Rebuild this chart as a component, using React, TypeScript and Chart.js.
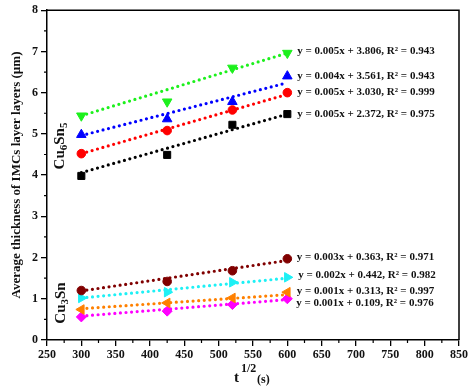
import React, { useEffect, useRef } from "react";
import { Chart, registerables } from "chart.js";

Chart.register(...registerables);

// ---- data ----
const xValues = [300, 425, 520, 600];
const fitX = [300, 600];

const greenVals = [5.44, 5.78, 6.6, 6.96];
const blueVals = [4.98, 5.36, 5.78, 6.4];
const redVals = [4.52, 5.08, 5.58, 6.0];
const blackVals = [3.98, 4.49, 5.22, 5.48];
const darkRedVals = [1.2, 1.42, 1.68, 1.97];
const cyanVals = [1.02, 1.16, 1.4, 1.52];
const orangeVals = [0.74, 0.9, 1.02, 1.16];
const magentaVals = [0.56, 0.7, 0.86, 1.0];

const greenFit = [5.44, 6.96];
const blueFit = [4.96, 6.24];
const redFit = [4.52, 5.96];
const blackFit = [4.06, 5.48];
const darkRedFit = [1.19, 1.93];
const cyanFit = [1.02, 1.5];
const orangeFit = [0.76, 1.1];
const magentaFit = [0.58, 0.98];

const equations = [
  "y = 0.005x + 3.806, R² = 0.943",
  "y = 0.004x + 3.561, R² = 0.943",
  "y = 0.005x + 3.030, R² = 0.999",
  "y = 0.005x + 2.372, R² = 0.975",
  "y = 0.003x + 0.363, R² = 0.971",
  "y = 0.002x + 0.442, R² = 0.982",
  "y = 0.001x + 0.313, R² = 0.997",
  "y = 0.001x + 0.109, R² = 0.976",
];

const yTitle = "Average thickness of IMCs layer layers (µm)";

// ---- styles ----
const FONT = "'Liberation Serif', 'Times New Roman', serif";
const seriesStyles = [
  { color: "#1cf01c", style: "triangle", rotation: 180, radius: 5.5 },
  { color: "#0000ff", style: "triangle", rotation: 0, radius: 5.5 },
  { color: "#ff0000", style: "circle", rotation: 0, radius: 4.3 },
  { color: "#000000", style: "rect", rotation: 0, radius: 5 },
  { color: "#800000", style: "circle", rotation: 0, radius: 4.3 },
  { color: "#1ef0f5", style: "triangle", rotation: 90, radius: 5.5 },
  { color: "#ff8000", style: "triangle", rotation: 270, radius: 5.5 },
  { color: "#ff00ff", style: "rectRot", rotation: 0, radius: 5 },
];
const labelOffsets = [
  [10, -2],
  [10, 0],
  [10, 0],
  [10, 0],
  [9.5, -2],
  [11, -2.5],
  [9.5, -1.5],
  [9, 4],
];

const allVals = [greenVals, blueVals, redVals, blackVals, darkRedVals, cyanVals, orangeVals, magentaVals];
const allFits = [greenFit, blueFit, redFit, blackFit, darkRedFit, cyanFit, orangeFit, magentaFit];

const decorPlugin = {
  id: "decor",
  afterDraw(chart: any) {
    const ctx = chart.ctx;
    const area = chart.chartArea;
    const xs = chart.scales.x;
    const ys = chart.scales.y;
    ctx.save();
    // frame top/right
    ctx.strokeStyle = "#000";
    ctx.lineWidth = 1.5;
    ctx.beginPath();
    ctx.moveTo(area.left, area.top);
    ctx.lineTo(area.right, area.top);
    ctx.lineTo(area.right, area.bottom);
    ctx.stroke();
    // minor ticks
    ctx.lineWidth = 1.2;
    ctx.beginPath();
    for (let v = 0.5; v < 8; v += 1) {
      const py = ys.getPixelForValue(v);
      ctx.moveTo(area.left, py);
      ctx.lineTo(area.left - 3, py);
    }
    for (let v = 275; v < 850; v += 50) {
      const px = xs.getPixelForValue(v);
      ctx.moveTo(px, area.bottom);
      ctx.lineTo(px, area.bottom + 3);
    }
    ctx.stroke();

    // equation labels
    ctx.fillStyle = "#111";
    ctx.font = `bold 11px ${FONT}`;
    ctx.textAlign = "left";
    ctx.textBaseline = "middle";
    equations.forEach((eq, i) => {
      const meta = chart.getDatasetMeta(i);
      const last = meta.data[meta.data.length - 1];
      ctx.fillText(eq, last.x + labelOffsets[i][0], last.y + labelOffsets[i][1]);
    });

    // phase labels (rotated, with subscripts)
    const drawPhase = (parts: [string, boolean][], cx: number, cy: number) => {
      ctx.save();
      ctx.translate(cx, cy);
      ctx.rotate(-Math.PI / 2);
      const big = `bold 15px ${FONT}`;
      const small = `bold 11px ${FONT}`;
      let total = 0;
      parts.forEach(([t, sub]) => {
        ctx.font = sub ? small : big;
        total += ctx.measureText(t).width;
      });
      let x = -total / 2;
      ctx.textAlign = "left";
      ctx.textBaseline = "alphabetic";
      parts.forEach(([t, sub]) => {
        ctx.font = sub ? small : big;
        ctx.fillText(t, x, sub ? 7.5 : 4.5);
        x += ctx.measureText(t).width;
      });
      ctx.restore();
    };
    drawPhase([["Cu", false], ["6", true], ["Sn", false], ["5", true]], 59, 146);
    drawPhase([["Cu", false], ["3", true], ["Sn", false]], 60, 303);

    // y title
    ctx.save();
    ctx.translate(17, 175);
    ctx.rotate(-Math.PI / 2);
    ctx.font = `bold 13px ${FONT}`;
    ctx.textAlign = "center";
    ctx.textBaseline = "middle";
    ctx.fillText(yTitle, 0, 0);
    ctx.restore();

    // x title t^{1/2}(s)
    ctx.textAlign = "left";
    ctx.textBaseline = "alphabetic";
    ctx.font = `bold 15px ${FONT}`;
    ctx.fillText("t", 234, 382);
    ctx.font = `bold 12px ${FONT}`;
    ctx.fillText("1/2", 241, 372);
    ctx.font = `bold 12px ${FONT}`;
    ctx.fillText("(s)", 257, 383);
    ctx.restore();
  },
};

export default function App() {
  const ref = useRef<HTMLCanvasElement | null>(null);
  useEffect(() => {
    document.body.style.margin = "0";
    if (!ref.current) return;
    const pointSets = allVals.map((vals, i) => ({
      data: vals.map((y, j) => ({ x: xValues[j], y })),
      showLine: false,
      pointStyle: seriesStyles[i].style,
      rotation: seriesStyles[i].rotation,
      pointRadius: seriesStyles[i].radius,
      backgroundColor: seriesStyles[i].color,
      borderColor: seriesStyles[i].color,
      borderWidth: 1,
    }));
    const fitSets = allFits.map((vals, i) => ({
      data: vals.map((y, j) => ({ x: fitX[j], y })),
      showLine: true,
      pointRadius: 0,
      borderColor: seriesStyles[i].color,
      borderWidth: 3.2,
      borderDash: [0, 5.6],
      borderCapStyle: "round",
      fill: false,
    }));
    const chart = new Chart(ref.current, {
      type: "scatter",
      data: { datasets: [...pointSets, ...fitSets] as any },
      options: {
        animation: false,
        responsive: false,
        maintainAspectRatio: false,
        layout: { padding: { top: 7, right: 17, left: 0, bottom: 0 } },
        plugins: { legend: { display: false }, tooltip: { enabled: false } },
        scales: {
          x: {
            type: "linear",
            min: 250,
            max: 850,
            afterFit: (s: any) => {
              s.height = 46;
            },
            ticks: {
              stepSize: 50,
              color: "#111",
              padding: 2,
              font: { family: FONT, weight: "bold", size: 12 },
            },
            grid: {
              drawOnChartArea: false,
              drawTicks: true,
              tickLength: 6,
              color: "#000",
              lineWidth: 1.3,
            },
            border: { display: true, color: "#000", width: 1.5 },
          },
          y: {
            type: "linear",
            min: 0,
            max: 8,
            afterFit: (s: any) => {
              s.width = 47;
            },
            ticks: {
              stepSize: 1,
              color: "#111",
              padding: 3,
              font: { family: FONT, weight: "bold", size: 12 },
            },
            grid: {
              drawOnChartArea: false,
              drawTicks: true,
              tickLength: 6,
              color: "#000",
              lineWidth: 1.3,
            },
            border: { display: true, color: "#000", width: 1.5 },
          },
        },
      },
      plugins: [decorPlugin],
    });
    return () => chart.destroy();
  }, []);
  return (
    <div style={{ width: 476, height: 386 }}>
      <canvas ref={ref} width={476} height={386} style={{ display: "block" }} />
    </div>
  );
}
